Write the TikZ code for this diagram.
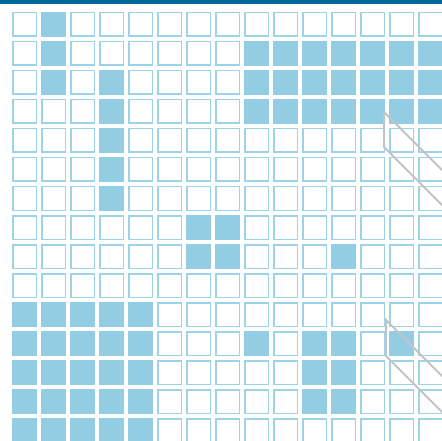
\documentclass[tikz,border=0pt]{standalone}
\definecolor{topbar}{HTML}{00699B}
\definecolor{cellline}{HTML}{9DD3E6}
\definecolor{cellfill}{HTML}{93CDE3}
\definecolor{wedge}{HTML}{C4C4C4}
\tikzset{
  emptycell/.style={draw=cellline, line width=1.5pt, fill=white},
  fullcell/.style={fill=cellfill},
  wedgeline/.style={draw=wedge, line width=2pt, line join=miter}
}
\begin{document}
\begin{tikzpicture}[x=1pt,y=-1pt]
\useasboundingbox (0,0) rectangle (442,441);
\fill[white] (0,0) rectangle (442,441);
\fill[topbar] (0,0) rectangle (442,3.7);
\begin{scope}
\clip (0,0) rectangle (442,441);
% empty cells everywhere
\foreach \r in {0,...,14}{
  \foreach \c in {0,...,14}{
    \path[emptycell] ({12.75+29*\c},{12.75+29*\r}) rectangle ({36.25+29*\c},{36.25+29*\r});
  }
}
% filled cells (row/col)
\foreach \r/\c in {0/1,1/1,2/1,2/3,3/3,4/3,5/3,6/3,
  1/8,1/9,1/10,1/11,1/12,1/13,1/14,
  2/8,2/9,2/10,2/11,2/12,2/13,2/14,
  3/8,3/9,3/10,3/11,3/12,3/13,3/14,
  7/6,7/7,8/6,8/7,8/11,
  10/0,10/1,10/2,10/3,10/4,
  11/0,11/1,11/2,11/3,11/4,11/8,11/10,11/11,11/13,
  12/0,12/1,12/2,12/3,12/4,12/10,12/11,
  13/0,13/1,13/2,13/3,13/4,13/10,13/11,
  14/0,14/1,14/2,14/3,14/4}{
  \path[fullcell] ({12+29*\c},{12+29*\r}) rectangle ({37+29*\c},{37+29*\r});
}
% gray wedges
\coordinate (w1a) at (384,112);
\coordinate (w1b) at (384,147);
\coordinate (w1c) at (450,178);
\coordinate (w1d) at (450,213);
\draw[wedgeline] (w1c) -- (w1a) -- (w1b) -- (w1d);
\coordinate (w2a) at (386,320);
\coordinate (w2b) at (386,356);
\coordinate (w2c) at (450,384);
\coordinate (w2d) at (450,420);
\draw[wedgeline] (w2c) -- (w2a) -- (w2b) -- (w2d);
\end{scope}
\end{tikzpicture}
\end{document}
